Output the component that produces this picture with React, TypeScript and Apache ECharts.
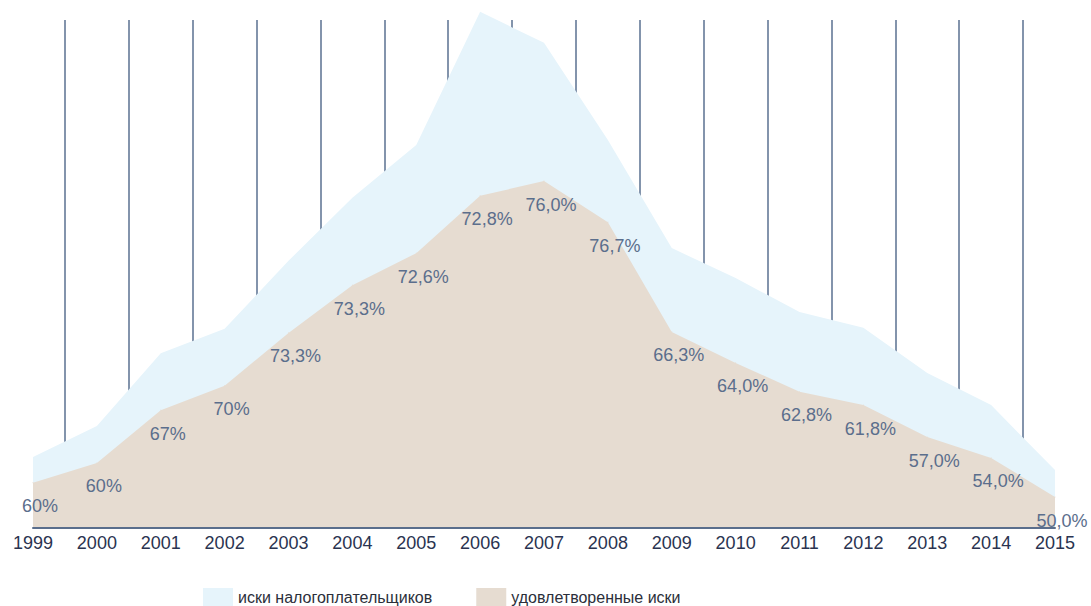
import React, { useEffect, useRef } from "react";
import * as echarts from "echarts";

const years = ["1999", "2000", "2001", "2002", "2003", "2004", "2005", "2006", "2007", "2008", "2009", "2010", "2011", "2012", "2013", "2014", "2015"];
const claims = [14.0, 20.1, 34.4, 39.2, 52.6, 65.0, 75.4, 101.6, 95.5, 76.4, 55.1, 49.2, 42.5, 39.4, 30.5, 24.2, 11.4];
const satisfied = [8.9, 12.8, 23.2, 28.0, 38.4, 47.8, 54.1, 65.4, 68.3, 60.2, 38.6, 32.5, 26.8, 24.2, 17.9, 13.8, 6.1];
const shareLabels = ["60%", "60%", "67%", "70%", "73,3%", "73,3%", "72,6%", "72,8%", "76,0%", "76,7%", "66,3%", "64,0%", "62,8%", "61,8%", "57,0%", "54,0%", "50,0%"];
const seriesNames = ["иски налогоплательщиков", "удовлетворенные иски"];

// half-step positions between years, used only for the vertical separator lines
const halfSteps: string[] = [];
years.forEach((y, i) => {
  halfSteps.push(y);
  if (i < years.length - 1) halfSteps.push(y + "+");
});

const FONT = "'Liberation Sans Narrow', 'Liberation Sans', sans-serif";
const BLUE = "#e6f4fb";
const BEIGE = "#e6dcd1";

export default function App() {
  const ref = useRef<HTMLDivElement>(null);
  useEffect(() => {
    if (!ref.current) return;
    const chart = echarts.init(ref.current, undefined, { renderer: "svg" });
    chart.setOption({
      animation: false,
      backgroundColor: "#ffffff",
      legend: {
        data: seriesNames,
        left: 203,
        top: 588,
        padding: 0,
        icon: "rect",
        itemWidth: 30,
        itemHeight: 18,
        itemGap: 44,
        textStyle: { fontFamily: FONT, fontSize: 16, color: "#2b2f3a" },
      },
      grid: { left: 33, right: 36, top: 20, bottom: 78, outerBoundsMode: "none" },
      xAxis: [
        {
          type: "category",
          data: years,
          boundaryGap: false,
          axisLine: { lineStyle: { color: "#5a6e8c", width: 2 } },
          axisTick: { show: false },
          axisLabel: { fontFamily: FONT, fontSize: 18, color: "#2a3350", margin: 6 },
          splitLine: { show: false },
          z: 5,
        },
        {
          type: "category",
          data: halfSteps,
          boundaryGap: false,
          position: "bottom",
          axisLine: { show: false },
          axisTick: { show: false },
          axisLabel: { show: false },
          splitLine: {
            show: true,
            interval: (i: number) => i % 2 === 1,
            lineStyle: { color: "#5a7191", width: 1.5 },
          },
        },
      ],
      yAxis: { type: "value", min: 0, max: 100, show: false, splitLine: { show: false } },
      series: [
        {
          name: seriesNames[0],
          type: "line",
          data: claims,
          clip: false,
          symbol: "none",
          lineStyle: { width: 0 },
          itemStyle: { color: BLUE },
          areaStyle: { color: BLUE, opacity: 1 },
          z: 2,
        },
        {
          name: seriesNames[1],
          type: "line",
          data: satisfied,
          symbol: "circle",
          symbolSize: 1,
          showSymbol: true,
          lineStyle: { width: 0 },
          itemStyle: { color: BEIGE },
          areaStyle: { color: BEIGE, opacity: 1 },
          label: {
            show: true,
            position: "bottom",
            distance: 14,
            padding: [0, 0, 0, 14],
            fontFamily: FONT,
            fontSize: 18,
            color: "#5b6e8c",
            formatter: (p: any) => shareLabels[p.dataIndex],
          },
          labelLayout: { hideOverlap: false },
          z: 3,
        },
      ],
    });
    return () => chart.dispose();
  }, []);
  return <div ref={ref} style={{ position: "fixed", left: 0, top: 0, width: 1091, height: 606 }} />;
}
